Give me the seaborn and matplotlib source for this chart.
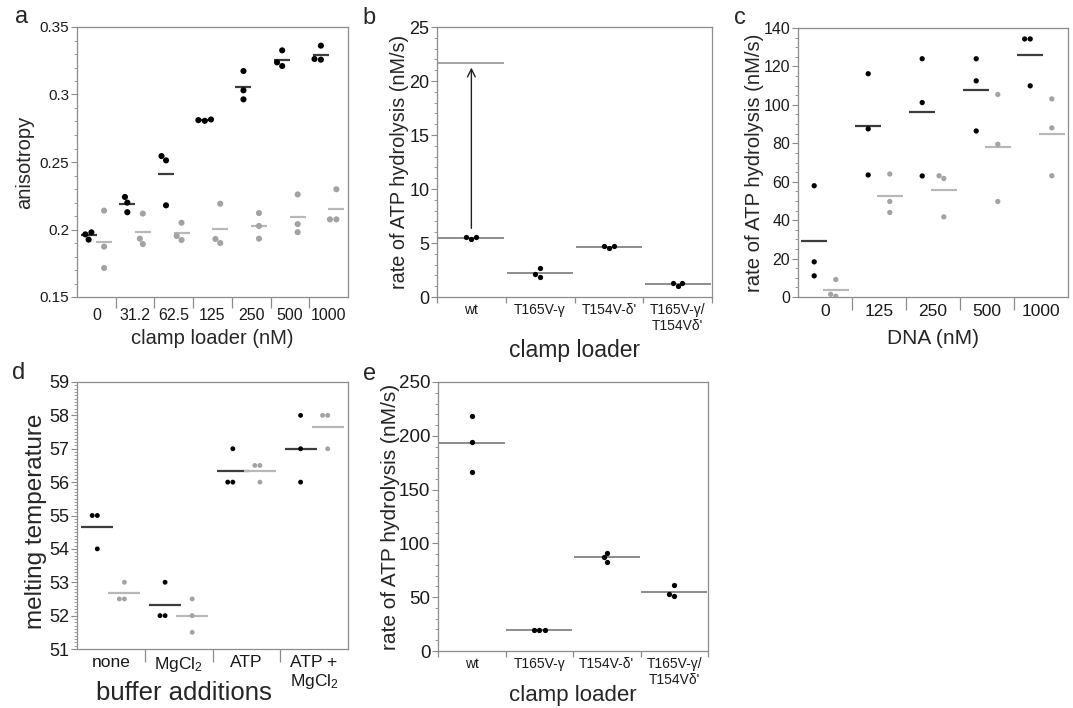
import numpy as np
import pandas as pd
import seaborn as sns
import matplotlib
matplotlib.use("Agg")
import matplotlib.pyplot as plt
from matplotlib.ticker import MultipleLocator, FixedLocator, FuncFormatter

sns.set_style("ticks")
plt.rcParams["font.family"] = ["Liberation Sans", "DejaVu Sans"]
plt.rcParams["mathtext.fontset"] = "custom"
plt.rcParams["mathtext.rm"] = "Liberation Sans"
plt.rcParams["mathtext.it"] = "Liberation Sans:italic"

DOT_DARK = "#000000"
DOT_LIGHT = "#a3a3a3"
MEAN_DARK = "#3c3c3c"
MEAN_LIGHT = "#b8b8b8"
MEAN_MID = "#6e6e6e"
SPINE = "#8c8c8c"

# ---- panel a: anisotropy vs clamp loader ----
a_conc = ["0", "31.2", "62.5", "125", "250", "500", "1000"]
a_dark = [[0.1964, 0.1979, 0.1925], [0.2199, 0.2241, 0.2128], [0.2544, 0.2512, 0.2179],
          [0.281, 0.2815, 0.2805], [0.3031, 0.3174, 0.2964], [0.3238, 0.3327, 0.3211],
          [0.3263, 0.3362, 0.3258]]
a_light = [[0.214, 0.1873, 0.1715], [0.1932, 0.2118, 0.1892], [0.1952, 0.205, 0.1922],
           [0.193, 0.2191, 0.190], [0.2122, 0.2026, 0.1932], [0.204, 0.226, 0.198],
           [0.2075, 0.2298, 0.2075]]

# ---- panel b: ATP hydrolysis, clamp loader mutants ----
b_loader = ["wt", "T165V-\u03b3", "T154V-\u03b4'", "T165V-\u03b3/\nT154V\u03b4'"]
b_rate = [[5.56, 5.34, 5.56], [2.1, 1.85, 2.69], [4.72, 4.51, 4.72], [1.30, 1.05, 1.30]]
b_wt_dna = 21.7

# ---- panel c: ATP hydrolysis vs DNA ----
c_dna = ["0", "125", "250", "500", "1000"]
c_dark = [[57.9, 18.3, 11.0], [116.2, 87.5, 63.5], [124.0, 101.2, 63.0],
          [124.0, 112.5, 86.4], [134.3, 134.3, 109.9]]
c_light = [[1.4, 0.4, 9.1], [64.0, 49.7, 44.0], [63.1, 61.7, 41.7],
           [105.4, 79.5, 49.7], [103.1, 88.0, 63.1]]

# ---- panel d: melting temperature ----
d_buffer = ["none", "MgCl$_2$", "ATP", "ATP +\nMgCl$_2$"]
d_dark = [[55, 55, 54], [53, 52, 52], [57, 56, 56], [58, 57, 56]]
d_light = [[53, 52.5, 52.5], [52.5, 52, 51.5], [56.5, 56.5, 56], [58, 58, 57]]

# ---- panel e: ATP hydrolysis, clamp loader mutants ----
e_loader = b_loader
e_rate = [[218.1, 194.5, 166.0], [19.2, 19.2, 19.8], [87.0, 83.0, 91.0], [52.7, 61.6, 51.1]]


def long_df(cats, dark, light=None):
    rows = []
    for c, vals in zip(cats, dark):
        rows += [(c, "dark", v) for v in vals]
    if light is not None:
        for c, vals in zip(cats, light):
            rows += [(c, "light", v) for v in vals]
    return pd.DataFrame(rows, columns=["cat", "set", "val"])


def dots(ax, df, order, size, line_len, lw=1.6, two=True, mean_color=MEAN_DARK):
    if two:
        sns.swarmplot(data=df, x="cat", y="val", hue="set", order=order,
                      hue_order=["dark", "light"],
                      palette={"dark": DOT_DARK, "light": DOT_LIGHT},
                      dodge=True, size=size, linewidth=0, legend=False,
                      warn_thresh=1, ax=ax)
        sns.pointplot(data=df, x="cat", y="val", hue="set", order=order,
                      hue_order=["dark", "light"],
                      palette={"dark": MEAN_DARK, "light": MEAN_LIGHT},
                      dodge=0.4, errorbar=None, markers="_", linestyle="none",
                      markersize=line_len, markeredgewidth=lw, legend=False, ax=ax)
    else:
        sns.swarmplot(data=df, x="cat", y="val", order=order, color=DOT_DARK,
                      size=size, linewidth=0, warn_thresh=1, ax=ax)
        sns.pointplot(data=df, x="cat", y="val", order=order, color=mean_color,
                      errorbar=None, markers="_", linestyle="none",
                      markersize=line_len, markeredgewidth=lw, ax=ax)


def style(ax, ylim, major, minor, ysize, xsize, seps, sep_len, xpad, fmt="%g"):
    ax.set_ylim(*ylim)
    ax.yaxis.set_major_locator(MultipleLocator(major))
    ax.yaxis.set_minor_locator(MultipleLocator(minor))
    ax.yaxis.set_major_formatter(FuncFormatter(lambda v, p: fmt % v))
    for s in ax.spines.values():
        s.set_visible(True)
        s.set_color(SPINE)
        s.set_linewidth(0.9)
    ax.tick_params(axis="y", which="major", length=4, width=0.8, color=SPINE,
                   labelsize=ysize, pad=1.5, labelcolor="#1a1a1a")
    ax.tick_params(axis="y", which="minor", length=2, width=0.6, color=SPINE)
    ax.tick_params(axis="x", which="major", length=0, labelsize=xsize, pad=xpad,
                   labelcolor="#1a1a1a")
    ax.xaxis.set_minor_locator(FixedLocator(seps))
    ax.tick_params(axis="x", which="minor", length=sep_len, width=0.9, color=SPINE)


W, H = 1073, 708
fig = plt.figure(figsize=(W / 100, H / 100), dpi=100)


def box(l, t, r, b):
    return fig.add_axes([l / W, 1 - b / H, (r - l) / W, (b - t) / H])


ax_a = box(77, 27, 348, 297)
ax_b = box(437, 27, 712, 297)
ax_c = box(798, 28, 1068, 297)
ax_d = box(77, 382, 348, 649)
ax_e = box(438, 382, 708, 651)

# panel a
dots(ax_a, long_df(a_conc, a_dark, a_light), a_conc, 4.4, 12)
style(ax_a, (0.15, 0.35), 0.05, 0.01, 11, 11.5, [i + 0.5 for i in range(6)], 8, 8)
ax_a.set_xlabel("clamp loader (nM)", fontsize=14.5)
ax_a.set_ylabel("anisotropy", fontsize=14.5)
ax_a.xaxis.set_label_coords(0.5, -0.12)
ax_a.yaxis.set_label_coords(-0.16, 0.5)

# panel b
dots(ax_b, long_df(b_loader, b_rate), b_loader, 3.8, 47, lw=1.1, two=False,
     mean_color=MEAN_MID)
sns.pointplot(x=["wt"], y=[b_wt_dna], order=b_loader, color="#8a8a8a",
              errorbar=None, markers="_", linestyle="none", markersize=47,
              markeredgewidth=1.1, ax=ax_b)
ax_b.annotate("", xy=(0, b_wt_dna - 0.2), xytext=(0, 6.1),
              arrowprops=dict(arrowstyle="->", color="#222222", lw=1.0,
                              mutation_scale=14))
style(ax_b, (0, 25), 5, 1, 13, 10, [i - 0.5 for i in range(5)], 4.5, 4)
ax_b.set_xlabel("clamp loader", fontsize=16.5)
ax_b.set_ylabel("rate of ATP hydrolysis (nM/s)", fontsize=14.3)
ax_b.xaxis.set_label_coords(0.5, -0.155)
ax_b.yaxis.set_label_coords(-0.102, 0.5)

# panel c
dots(ax_c, long_df(c_dna, c_dark, c_light), c_dna, 3.8, 19)
style(ax_c, (0, 140), 20, 5, 11.5, 12.5, [i + 0.5 for i in range(4)], 9, 5)
ax_c.set_xlabel("DNA (nM)", fontsize=15)
ax_c.set_ylabel("rate of ATP hydrolysis (nM/s)", fontsize=14.6)
ax_c.xaxis.set_label_coords(0.5, -0.12)
ax_c.yaxis.set_label_coords(-0.125, 0.5)

# panel d
dots(ax_d, long_df(d_buffer, d_dark, d_light), d_buffer, 3.5, 23)
style(ax_d, (51, 59), 1, 0.1, 13, 12.5, [i + 0.5 for i in range(3)], 9, 4)
ax_d.set_xlabel("buffer additions", fontsize=18.5)
ax_d.set_ylabel("melting temperature", fontsize=17.5)
ax_d.xaxis.set_label_coords(0.395, -0.12)
ax_d.yaxis.set_label_coords(-0.11, 0.48)

# panel e
dots(ax_e, long_df(e_loader, e_rate), e_loader, 3.8, 48, lw=1.1, two=False,
     mean_color=MEAN_MID)
style(ax_e, (0, 250), 50, 10, 13.5, 10, [i - 0.5 for i in range(5)], 4.5, 4)
ax_e.set_xlabel("clamp loader", fontsize=16)
ax_e.set_ylabel("rate of ATP hydrolysis (nM/s)", fontsize=15)
ax_e.xaxis.set_label_coords(0.5, -0.125)
ax_e.yaxis.set_label_coords(-0.14, 0.5)

for letter, (px, py) in zip("abcde", [(22, 17), (369, 18), (740, 18), (19, 373), (370, 374)]):
    fig.text(px / W, 1 - py / H, letter, fontsize=17, ha="center", va="center")

fig.savefig("out.png", dpi=100)
